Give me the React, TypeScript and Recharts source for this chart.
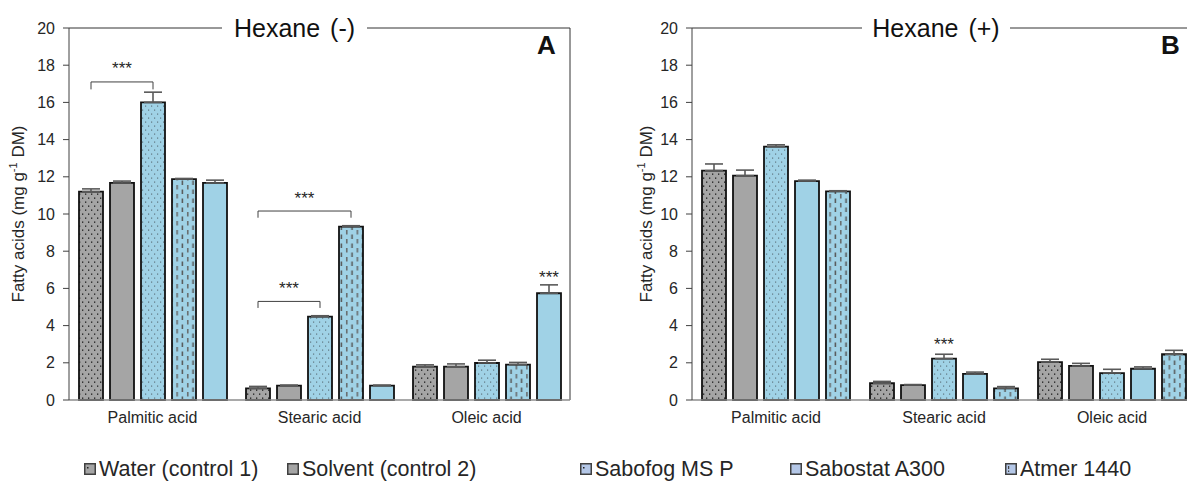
import React from 'react';
import { BarChart, Bar, XAxis, YAxis, ErrorBar, LabelList, CartesianGrid } from 'recharts';

const categories = ['Palmitic acid', 'Stearic acid', 'Oleic acid'];
const yTicks = [0, 2, 4, 6, 8, 10, 12, 14, 16, 18, 20];

// Panel A (Hexane -)
const waterA = [11.2, 0.63, 1.79];
const waterAErr = [0.15, 0.1, 0.1];
const solventA = [11.67, 0.77, 1.79];
const solventAErr = [0.1, 0.03, 0.15];
const sabofogA = [16.0, 4.48, 1.99];
const sabofogAErr = [0.55, 0.05, 0.15];
const atmerA = [11.88, 9.32, 1.9];
const atmerAErr = [0.03, 0.05, 0.12];
const sabostatA = [11.67, 0.77, 5.74];
const sabostatAErr = [0.15, 0.03, 0.45];

// Panel B (Hexane +)
const waterB = [12.33, 0.9, 2.04];
const waterBErr = [0.36, 0.1, 0.15];
const solventB = [12.06, 0.8, 1.83];
const solventBErr = [0.3, 0.03, 0.14];
const sabofogB = [13.62, 2.22, 1.45];
const sabofogBErr = [0.1, 0.24, 0.2];
const sabostatB = [11.77, 1.4, 1.68];
const sabostatBErr = [0.05, 0.1, 0.1];
const atmerB = [11.22, 0.63, 2.46];
const atmerBErr = [0.03, 0.09, 0.21];

const legendNames = ['Water (control 1)', 'Solvent (control 2)', 'Sabofog MS P', 'Sabostat A300', 'Atmer 1440'];

// significance annotations
const bracketsA = [
  { category: 0, from: 0, to: 2, level: 17.1, tickEnd: 16.7, stars: 17.75 },
  { category: 1, from: 0, to: 2, level: 5.3, tickEnd: 4.95, stars: 5.95 },
  { category: 1, from: 0, to: 3, level: 10.16, tickEnd: 9.8, stars: 10.8 },
];
const starsA = [{ category: 2, series: 4, level: 6.55 }];
const bracketsB: any[] = [];
const starsB = [{ category: 1, series: 2, level: 2.95 }];

const GRAY = '#a5a5a5';
const BLUE = '#a0d2e6';
const BAR_SIZE = 24;
const BAR_GAP = 7;
const FONT = '"Liberation Sans", Arial, Helvetica, sans-serif';
const TEXT = '#262626';

type Series = { key: string; values: number[]; errs: number[]; pattern: string };

const seriesA: Series[] = [
  { key: 'water', values: waterA, errs: waterAErr, pattern: 'grayDots' },
  { key: 'solvent', values: solventA, errs: solventAErr, pattern: 'gray' },
  { key: 'sabofog', values: sabofogA, errs: sabofogAErr, pattern: 'blueDots' },
  { key: 'atmer', values: atmerA, errs: atmerAErr, pattern: 'blueDash' },
  { key: 'sabostat', values: sabostatA, errs: sabostatAErr, pattern: 'blue' },
];
const seriesB: Series[] = [
  { key: 'water', values: waterB, errs: waterBErr, pattern: 'grayDots' },
  { key: 'solvent', values: solventB, errs: solventBErr, pattern: 'gray' },
  { key: 'sabofog', values: sabofogB, errs: sabofogBErr, pattern: 'blueDots' },
  { key: 'sabostat', values: sabostatB, errs: sabostatBErr, pattern: 'blue' },
  { key: 'atmer', values: atmerB, errs: atmerBErr, pattern: 'blueDash' },
];

function buildRows(series: Series[]) {
  return categories.map((c, i) => {
    const row: any = { category: c };
    series.forEach((s) => {
      row[s.key] = s.values[i];
      row[s.key + 'Err'] = [0, s.errs[i]];
    });
    return row;
  });
}

function Patterns({ id }: { id: string }) {
  return (
    <defs>
      <pattern id={`${id}-grayDots`} width={6} height={8} patternUnits="userSpaceOnUse">
        <rect width={6} height={8} fill={GRAY} />
        <rect x={1} y={1.5} width={1.3} height={1.3} fill="#1a1a1a" />
        <rect x={4} y={5.5} width={1.3} height={1.3} fill="#1a1a1a" />
      </pattern>
      <pattern id={`${id}-gray`} width={6} height={8} patternUnits="userSpaceOnUse">
        <rect width={6} height={8} fill={GRAY} />
      </pattern>
      <pattern id={`${id}-blueDots`} width={6} height={8} patternUnits="userSpaceOnUse">
        <rect width={6} height={8} fill={BLUE} />
        <rect x={1} y={1.5} width={1.2} height={1.2} fill="#5f7580" />
        <rect x={4} y={5.5} width={1.2} height={1.2} fill="#5f7580" />
      </pattern>
      <pattern id={`${id}-blue`} width={6} height={8} patternUnits="userSpaceOnUse">
        <rect width={6} height={8} fill={BLUE} />
      </pattern>
      <pattern id={`${id}-blueDash`} width={10.6} height={9} patternUnits="userSpaceOnUse">
        <rect width={10.6} height={9} fill={BLUE} />
        <rect x={1.5} y={0.5} width={1.5} height={4.5} fill="#555" />
        <rect x={6.8} y={5} width={1.5} height={4} fill="#666" />
        <rect x={6.8} y={0} width={1.5} height={0.5} fill="#666" />
      </pattern>
    </defs>
  );
}

function makeAnnotation(seriesIndex: number, brackets: any[], stars: any[]) {
  return (props: any) => {
    const { index, value } = props;
    const vb = props.viewBox || props;
    const x = Number(props.x ?? vb.x);
    const y = Number(props.y ?? vb.y);
    const width = Number(props.width ?? vb.width);
    const height = Number(props.height ?? vb.height);
    const v = Number(value);
    if (!isFinite(x) || !v) return null;
    const base = y + height;
    const ppu = height / v;
    const toY = (d: number) => base - d * ppu;
    const cx = x + width / 2;
    const els: any[] = [];
    brackets.forEach((b, bi) => {
      if (b.category === index && b.to === seriesIndex) {
        const lx = cx - (b.to - b.from) * (BAR_SIZE + BAR_GAP);
        const ly = toY(b.level);
        const ty = toY(b.tickEnd);
        els.push(
          <path key={'b' + bi} d={`M${lx},${ty}L${lx},${ly}L${cx},${ly}L${cx},${ty}`} fill="none" stroke="#404040" strokeWidth={1} />
        );
        els.push(
          <text key={'t' + bi} x={(lx + cx) / 2} y={toY(b.stars)} textAnchor="middle" dominantBaseline="middle" fontSize={17} fill={TEXT} fontFamily={FONT}>***</text>
        );
      }
    });
    stars.forEach((s, si) => {
      if (s.category === index && s.series === seriesIndex) {
        els.push(
          <text key={'s' + si} x={cx} y={toY(s.level)} textAnchor="middle" dominantBaseline="middle" fontSize={17} fill={TEXT} fontFamily={FONT}>***</text>
        );
      }
    });
    if (!els.length) return null;
    return <g>{els}</g>;
  };
}

function YLabel({ cx, cy }: { cx: number; cy: number }) {
  return (
    <text transform={`rotate(-90 ${cx} ${cy})`} x={cx} y={cy} textAnchor="middle" dominantBaseline="middle" fontSize={17} fill={TEXT} fontFamily={FONT}>
      <tspan>Fatty acids (mg g</tspan>
      <tspan dy={-6} fontSize={11}>-1</tspan>
      <tspan dy={6}> DM)</tspan>
    </text>
  );
}

function Panel({ id, series, brackets, stars, marginLeft, marginRight, labelX }: any) {
  const rows = buildRows(series);
  return (
    <BarChart
      width={600}
      height={430}
      data={rows}
      margin={{ top: 28, right: marginRight, left: marginLeft, bottom: 0 }}
      barSize={BAR_SIZE}
      barGap={BAR_GAP}
      style={{ fontFamily: FONT }}
    >
      <Patterns id={id} />
      <CartesianGrid
        stroke="#333"
        strokeOpacity={1}
        strokeWidth={1}
        horizontalCoordinatesGenerator={(p: any) => [p.offset.top]}
        verticalCoordinatesGenerator={(p: any) => [p.offset.left + p.offset.width]}
      />
      <XAxis
        dataKey="category"
        tickLine={false}
        axisLine={{ stroke: '#8c8c8c', strokeWidth: 1.5 }}
        tick={{ fontSize: 16, fill: TEXT, fontFamily: FONT }}
        tickMargin={6}
        height={30}
        interval={0}
      />
      <YAxis
        domain={[0, 20]}
        ticks={yTicks}
        interval={0}
        width={40}
        tickSize={6}
        tickMargin={8}
        tick={{ fontSize: 16, fill: TEXT, fontFamily: FONT }}
        axisLine={{ stroke: '#404040', strokeWidth: 1 }}
        tickLine={{ stroke: '#404040', strokeWidth: 1 }}
        label={{ content: () => <YLabel cx={labelX} cy={214} /> }}
      />
      {series.map((s: Series, si: number) => (
        <Bar
          key={s.key}
          dataKey={s.key}
          fill={`url(#${id}-${s.pattern})`}
          stroke="#111"
          strokeWidth={1.8}
          isAnimationActive={false}
        >
          <ErrorBar dataKey={s.key + 'Err'} width={9} stroke="#595959" strokeWidth={1.6} direction="y" />
          <LabelList dataKey={s.key} content={makeAnnotation(si, brackets, stars)} />
        </Bar>
      ))}
    </BarChart>
  );
}

function LegendMarker({ kind }: { kind: string }) {
  const fill = kind.startsWith('gray') ? GRAY : '#b4c7e7';
  return (
    <svg width={12} height={12} style={{ display: 'block' }}>
      <rect x={0.75} y={0.75} width={10.5} height={10.5} fill={fill} stroke="#404040" strokeWidth={1.5} />
      {kind.endsWith('Dots') && <rect x={3} y={4} width={1.5} height={1.5} fill="#222" />}
      {kind === 'blueDash' && (
        <>
          <rect x={3} y={3} width={1.2} height={3} fill="#444" />
          <rect x={3} y={7.5} width={1.2} height={1.5} fill="#444" />
        </>
      )}
    </svg>
  );
}

const legendKinds = ['grayDots', 'gray', 'blueDots', 'blue', 'blueDash'];
const legendLeft = [84, 287, 580, 790, 1005];

export default function App() {
  return (
    <div style={{ position: 'absolute', left: 0, top: 0, width: 1187, height: 485, overflow: 'hidden', background: '#fff', fontFamily: FONT }}>
      <div style={{ position: 'absolute', left: 0, top: 0 }}>
        <Panel id="pa" series={seriesA} brackets={bracketsA} stars={starsA} marginLeft={29} marginRight={30} labelX={20} />
      </div>
      <div style={{ position: 'absolute', left: 600, top: 0 }}>
        <Panel id="pb" series={seriesB} brackets={bracketsB} stars={starsB} marginLeft={52} marginRight={4} labelX={48} />
      </div>
      <div style={{ position: 'absolute', left: 222, top: 13, width: 145, textAlign: 'center', background: '#fff', fontSize: 25, lineHeight: '30px', color: '#111', wordSpacing: 3 }}>Hexane (-)</div>
      <div style={{ position: 'absolute', left: 862, top: 13, width: 148, textAlign: 'center', background: '#fff', fontSize: 25, lineHeight: '30px', color: '#111', wordSpacing: 3 }}>Hexane (+)</div>
      <div style={{ position: 'absolute', left: 537, top: 30, fontSize: 26, fontWeight: 'bold', lineHeight: '30px', color: '#111' }}>A</div>
      <div style={{ position: 'absolute', left: 1161, top: 30, fontSize: 26, fontWeight: 'bold', lineHeight: '30px', color: '#111' }}>B</div>
      {legendNames.map((n, i) => (
        <div key={n} style={{ position: 'absolute', left: legendLeft[i], top: 456, height: 26, display: 'flex', alignItems: 'center', gap: 3, fontSize: 21.5, color: TEXT, whiteSpace: 'nowrap' }}>
          <LegendMarker kind={legendKinds[i]} />
          <span>{n}</span>
        </div>
      ))}
    </div>
  );
}
